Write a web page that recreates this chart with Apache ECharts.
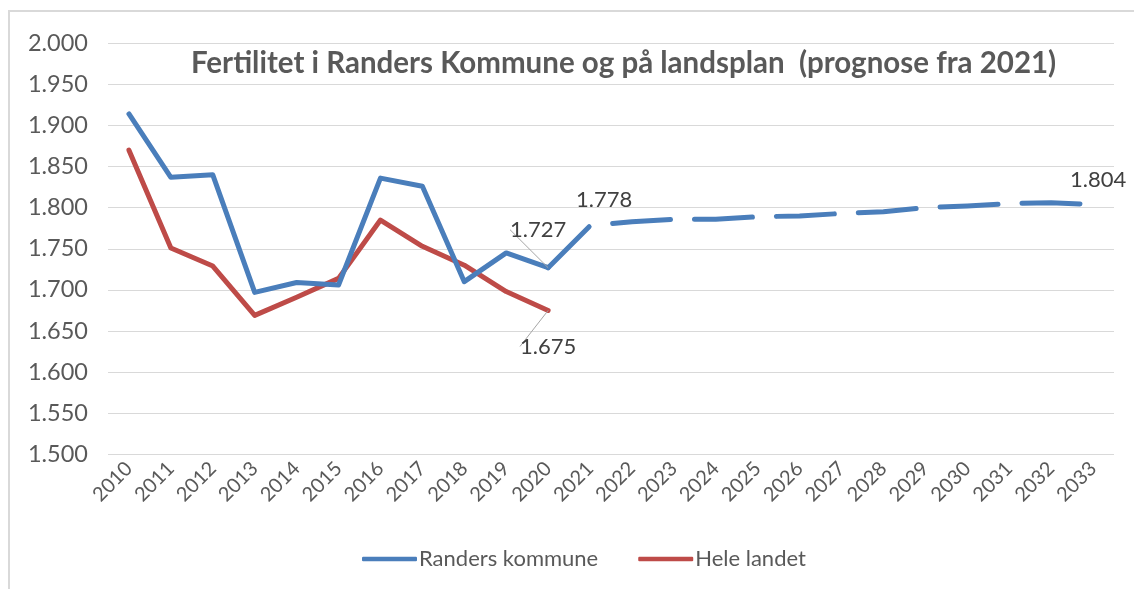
<!DOCTYPE html>
<html>
<head>
<meta charset="utf-8">
<script src="https://cdn.jsdelivr.net/npm/echarts@6/dist/echarts.min.js"></script>
<style>
  html, body { margin: 0; padding: 0; background: #fff; }
  #chart { width: 1134px; height: 589px; }
</style>
</head>
<body>
<div id="chart"></div>
<script>
const titleText = 'Fertilitet i Randers Kommune og på landsplan  (prognose fra 2021)';
const years = ['2010','2011','2012','2013','2014','2015','2016','2017','2018','2019','2020','2021',
               '2022','2023','2024','2025','2026','2027','2028','2029','2030','2031','2032','2033'];
// Randers kommune, observed 2010-2020
const randersActual = [1.914, 1.837, 1.840, 1.697, 1.709, 1.706, 1.836, 1.826, 1.710, 1.745, 1.727];
// Randers kommune, forecast 2021-2033
const randersForecast = [1.778, 1.783, 1.786, 1.786, 1.789, 1.790, 1.793, 1.795, 1.800, 1.802, 1.805, 1.806, 1.804];
// Hele landet, 2010-2020
const heleLandet = [1.870, 1.751, 1.729, 1.669, 1.691, 1.714, 1.785, 1.753, 1.730, 1.698, 1.675];
const seriesNames = ['Randers kommune', 'Hele landet'];
const yMin = 1.5, yMax = 2.0, yStep = 0.05;

const FONT = 'Lato';
const BLUE = '#4a7ebb';
const RED = '#be4b48';
const TXT = '#595959';

const labelStyle = { show: true, color: '#404040', fontFamily: FONT, fontSize: 22 };

function fmt(v) { return v.toFixed(3); }

const lastActual = randersActual.length - 1;
const actualData = years.map((y, i) => {
  if (i > lastActual) return null;
  if (i === lastActual) return { value: randersActual[i], label: Object.assign({}, labelStyle, { position: 'top' }), labelLine: { show: true } };
  return randersActual[i];
});
const forecastData = years.map((y, i) => {
  if (i < lastActual) return null;
  if (i === lastActual) return randersActual[i];
  const v = randersForecast[i - lastActual - 1];
  if (i === lastActual + 1 || i === years.length - 1) {
    return { value: v, label: Object.assign({}, labelStyle, { position: 'top' }) };
  }
  return v;
});
const landData = years.map((y, i) => {
  if (i >= heleLandet.length) return null;
  if (i === heleLandet.length - 1) return { value: heleLandet[i], label: Object.assign({}, labelStyle, { position: 'bottom' }), labelLine: { show: true } };
  return heleLandet[i];
});

const hiddenSymbol = { symbol: 'circle', symbolSize: 0, showSymbol: true, showAllSymbol: true };

const chart = echarts.init(document.getElementById('chart'), null, { renderer: 'canvas' });
chart.setOption({
  backgroundColor: '#fff',
  animation: false,
  title: {
    text: titleText,
    left: 186,
    top: 43,
    textStyle: { fontFamily: FONT, fontWeight: 'bold', fontSize: 29.5, color: TXT }
  },
  graphic: [{
    type: 'rect',
    shape: { x: 9, y: 11, width: 2000, height: 2000 },
    style: { fill: 'none', stroke: '#d9d9d9', lineWidth: 2 },
    silent: true
  }],
  legend: {
    data: [
      { name: seriesNames[0], itemStyle: { color: BLUE, opacity: 1 } },
      { name: seriesNames[1], itemStyle: { color: RED, opacity: 1 } }
    ],
    bottom: 14,
    left: 357,
    itemWidth: 55,
    itemHeight: 4.5,
    itemGap: 40,
    icon: 'roundRect',
    textStyle: { fontFamily: FONT, fontSize: 22, color: TXT, padding: [0, 0, 0, -3] }
  },
  grid: { left: 108, right: 20, top: 43.3, bottom: 134.7 },
  xAxis: {
    type: 'category',
    data: years,
    boundaryGap: true,
    axisLine: { show: false },
    axisTick: { show: false },
    axisLabel: { rotate: 45, color: TXT, fontFamily: FONT, fontSize: 20, margin: 11 }
  },
  yAxis: {
    type: 'value',
    min: yMin, max: yMax, interval: yStep,
    axisLine: { show: false },
    axisTick: { show: false },
    splitLine: { lineStyle: { color: '#d9d9d9', width: 1 } },
    axisLabel: { color: TXT, fontFamily: FONT, fontSize: 23.5, margin: 20, formatter: v => fmt(v) }
  },
  series: [
    Object.assign({
      name: seriesNames[0], type: 'line', data: actualData,
      lineStyle: { color: BLUE, width: 5, cap: 'round', join: 'round' },
      itemStyle: { color: BLUE },
      label: { show: false, formatter: p => fmt(p.value) },
      labelLine: { show: false, lineStyle: { color: '#a6a6a6', width: 1 } },
      labelLayout: p => (p.dataIndex === lastActual ? { dx: -10, dy: -22 } : {}),
      z: 3
    }, hiddenSymbol),
    Object.assign({
      name: seriesNames[0] + ' prognose', type: 'line', data: forecastData,
      lineStyle: { color: BLUE, width: 5, type: [58, 24], cap: 'round', join: 'round' },
      itemStyle: { color: BLUE },
      label: { show: false, formatter: p => fmt(p.value) },
      labelLayout: p => (p.dataIndex === years.length - 1 ? { dx: 5, dy: -9 } : { dx: 14, dy: -10 }),
      z: 3
    }, hiddenSymbol),
    Object.assign({
      name: seriesNames[1], type: 'line', data: landData,
      lineStyle: { color: RED, width: 5, cap: 'round', join: 'round' },
      itemStyle: { color: RED },
      label: { show: false, formatter: p => fmt(p.value) },
      labelLine: { show: false, lineStyle: { color: '#a6a6a6', width: 1 } },
      labelLayout: p => (p.dataIndex === heleLandet.length - 1 ? { dx: 0, dy: 20 } : {}),
      z: 2
    }, hiddenSymbol)
  ]
});
</script>
</body>
</html>
